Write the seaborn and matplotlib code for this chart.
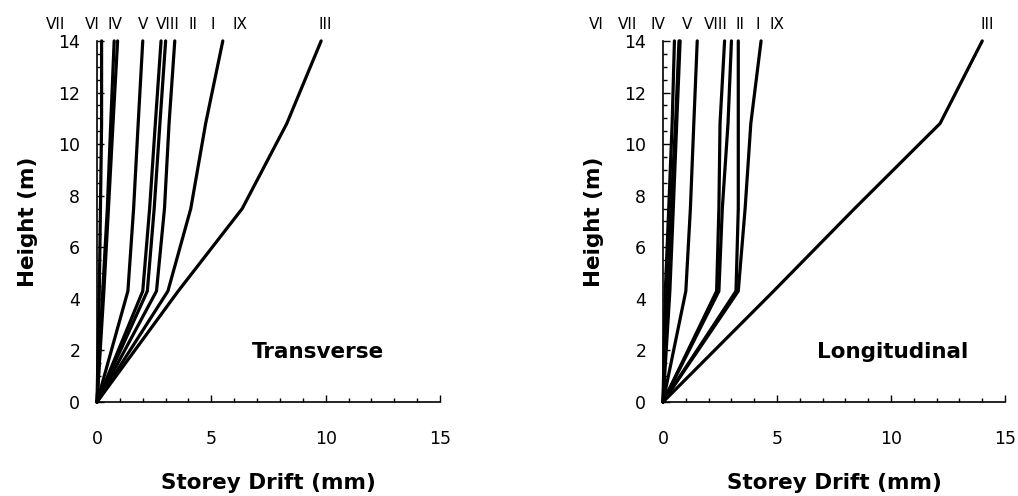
import matplotlib
matplotlib.use("Agg")
import matplotlib.pyplot as plt
import seaborn as sns
import pandas as pd
from matplotlib.ticker import MultipleLocator

sns.set_theme(style="ticks")
plt.rcParams['font.family'] = ['DejaVu Sans']

# ---- data ----
heights = [0, 4.3, 7.5, 10.8, 14]
cases = ["I", "II", "III", "IV", "V", "VI", "VII", "VIII", "IX"]

trans = {
    "VII":  [0, 0.10, 0.15, 0.20, 0.20],
    "VI":   [0, 0.25, 0.45, 0.60, 0.75],
    "IV":   [0, 0.30, 0.50, 0.70, 0.90],
    "V":    [0, 1.35, 1.60, 1.80, 2.00],
    "VIII": [0, 2.00, 2.30, 2.55, 2.80],
    "II":   [0, 2.20, 2.50, 2.75, 3.00],
    "I":    [0, 2.60, 2.95, 3.15, 3.40],
    "IX":   [0, 3.10, 4.10, 4.75, 5.50],
    "III":  [0, 3.55, 6.35, 8.30, 9.80],
}
longi = {
    "VI":   [0, 0.10, 0.25, 0.40, 0.50],
    "VII":  [0, 0.20, 0.35, 0.55, 0.70],
    "IV":   [0, 0.30, 0.45, 0.60, 0.75],
    "V":    [0, 1.00, 1.20, 1.35, 1.50],
    "VIII": [0, 2.35, 2.45, 2.50, 2.70],
    "II":   [0, 2.45, 2.60, 2.85, 3.00],
    "I":    [0, 3.20, 3.30, 3.30, 3.30],
    "IX":   [0, 3.30, 3.60, 3.85, 4.30],
    "III":  [0, 4.85, 8.40, 12.15, 14.00],
}

# label positions along the top (mm), in order as printed
trans_labels = ["VII", "VI", "IV", "V", "VIII", "II", "I", "IX", "III"]
trans_label_x = [-1.83, -0.22, 0.79, 2.0, 3.1, 4.2, 5.07, 6.24, 10.0]
longi_labels = ["VI", "VII", "IV", "V", "VIII", "II", "I", "IX", "III"]
longi_label_x = [-2.94, -1.54, -0.22, 1.05, 2.33, 3.38, 4.17, 5.0, 14.2]

titles = ["Transverse", "Longitudinal"]
xticks = [0, 5, 10, 15]
yticks = [0, 2, 4, 6, 8, 10, 12, 14]


def to_long(d):
    rows = []
    for c, xs in d.items():
        for h, x in zip(heights, xs):
            rows.append({"case": c, "drift": x, "height": h})
    return pd.DataFrame(rows)


fig = plt.figure(figsize=(10.18, 4.96), dpi=100)
axL = fig.add_axes([0.0953, 0.1895, 0.337, 0.728])
axR = fig.add_axes([0.6513, 0.1895, 0.336, 0.728])

for ax, d, labs, labx, title in [
    (axL, trans, trans_labels, trans_label_x, titles[0]),
    (axR, longi, longi_labels, longi_label_x, titles[1]),
]:
    df = to_long(d)
    sns.lineplot(data=df, x="drift", y="height", hue="case",
                 palette={c: "black" for c in cases}, estimator=None,
                 sort=False, legend=False, lw=2.3, ax=ax, clip_on=False)
    ax.set_xlim(0, 15)
    ax.set_ylim(0, 14)
    ax.set_xticks(xticks)
    ax.set_yticks(yticks)
    ax.xaxis.set_minor_locator(MultipleLocator(1))
    ax.yaxis.set_minor_locator(MultipleLocator(0.5))
    ax.tick_params(axis="both", which="major", direction="in", length=5,
                   width=1, color="black", labelsize=12.5, labelcolor="black")
    ax.tick_params(axis="both", which="minor", direction="in", length=3,
                   width=1, color="black")
    ax.tick_params(axis="x", which="major", pad=20)
    ax.tick_params(axis="y", which="major", pad=12)
    for s in ["top", "right"]:
        ax.spines[s].set_visible(False)
    for s in ["left", "bottom"]:
        ax.spines[s].set_color("black")
        ax.spines[s].set_linewidth(1.2)
    ax.set_xlabel("Storey Drift (mm)", fontsize=15.5, fontweight="bold",
                  labelpad=18, color="black")
    ax.set_ylabel("Height (m)", fontsize=15.5, fontweight="bold",
                  labelpad=15, color="black")
    for lab, x in zip(labs, labx):
        ax.text(x, 14.62, lab, ha="center", va="center", fontsize=11,
                color="black", clip_on=False)
    ax.text(6.75, 1.95, title, ha="left", va="center", fontsize=15.5,
            fontweight="bold", color="black")
    ax.set_facecolor("white")

fig.patch.set_facecolor("white")
fig.savefig("out.png", dpi=100, facecolor="white")
